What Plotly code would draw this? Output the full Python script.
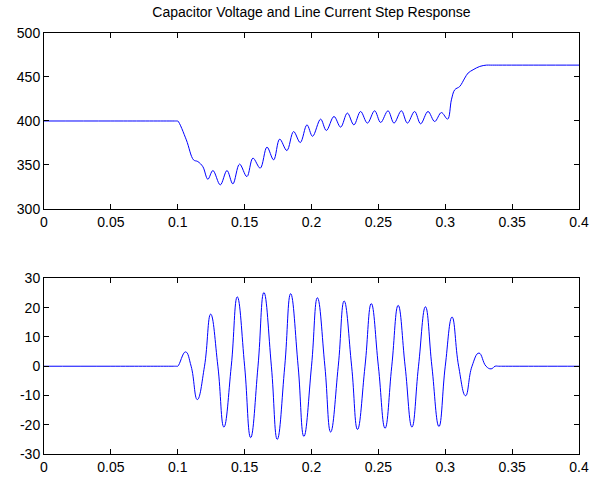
import plotly.graph_objects as go

# Capacitor voltage (top panel), peaks/troughs of the ripple
t_volt = [0, 0.05, 0.095, 0.099, 0.1, 0.1064, 0.1118, 0.115, 0.1188, 0.1225, 0.1263,
          0.1318, 0.1368, 0.1412, 0.1462, 0.1517, 0.1562, 0.1617, 0.1667, 0.1717,
          0.1762, 0.1816, 0.1866, 0.1916, 0.1966, 0.2008, 0.2068, 0.2111, 0.2168,
          0.2218, 0.2268, 0.2317, 0.2367, 0.2418, 0.2472, 0.2517, 0.2572, 0.2617,
          0.2672, 0.2717, 0.2771, 0.2816, 0.2871, 0.2921, 0.2971, 0.3018, 0.3046,
          0.3071, 0.3108, 0.3146, 0.3171, 0.3208, 0.3258, 0.3308, 0.334, 0.34,
          0.37, 0.4]
v_cap = [400, 400, 400, 400, 400, 378.6, 355.8, 353.9, 348, 333.8, 343.7,
         327.4, 343.7, 328.5, 351, 336.8, 357.8, 346.4, 370.3, 355.8,
         379.4, 366.4, 388, 375.5, 395.6, 382.6, 402.1, 389.2, 405.1,
         393, 409, 395.6, 410.8, 397.6, 411.6, 398.3, 411.6, 397.6,
         411.6, 397.6, 410.8, 396.8, 410.8, 399.4, 409.6, 402.1, 424,
         435.5, 439.2, 448.8, 454.5, 458.2, 462, 463.5, 463.5, 463.5,
         463.5, 463.5]

# Line current (bottom panel) - zero crossings and extremes
t_curr = [0, 0.05, 0.095, 0.099, 0.1, 0.1058, 0.11, 0.1146, 0.12, 0.1246, 0.13,
          0.1345, 0.14, 0.1445, 0.15, 0.1545, 0.16, 0.1644, 0.17, 0.1744, 0.18,
          0.1844, 0.19, 0.1943, 0.2, 0.2044, 0.21, 0.2143, 0.22, 0.2244, 0.23,
          0.2344, 0.24, 0.2447, 0.25, 0.255, 0.26, 0.2648, 0.27, 0.2751, 0.28,
          0.2852, 0.29, 0.2953, 0.3, 0.3051, 0.31, 0.3152, 0.32, 0.3252, 0.3305,
          0.3343, 0.3373, 0.34, 0.345, 0.37, 0.4]
i_line = [0, 0, 0, 0, 0, 4.9, 0, -11.4, 0, 17.8, 0,
          -20.8, 0, 23.7, 0, -24.4, 0, 25.2, 0, -25, 0,
          24.8, 0, -24, 0, 23.4, 0, -22.5, 0, 22.3, 0,
          -21.6, 0, 21.4, 0, -21.2, 0, 20.8, 0, -20.8, 0,
          20.3, 0, -20.6, 0, 16.8, 0, -10.1, 0, 4.5, 0,
          -0.9, 0, 0, 0, 0, 0]

x_ticks = [0, 0.05, 0.1, 0.15, 0.2, 0.25, 0.3, 0.35, 0.4]
x_labels = ['0', '0.05', '0.1', '0.15', '0.2', '0.25', '0.3', '0.35', '0.4']
y1_ticks = [300, 350, 400, 450, 500]
y2_ticks = [-30, -20, -10, 0, 10, 20, 30]
y2_labels = ['-30', '-20', '-10', '0', '10', '20', '30']

data = [
    go.Scatter(x=t_volt, y=v_cap, mode='lines',
               line=dict(color='#0000ff', width=1, shape='spline', smoothing=1),
               xaxis='x', yaxis='y', showlegend=False),
    go.Scatter(x=t_curr, y=i_line, mode='lines',
               line=dict(color='#0000ff', width=1, shape='spline', smoothing=1.3),
               xaxis='x2', yaxis='y2', showlegend=False),
]

axis_style = dict(showline=True, linecolor='black', linewidth=1, mirror='allticks',
                  ticks='inside', ticklen=5, tickcolor='black', showgrid=False,
                  zeroline=False, automargin=False, ticklabeloverflow='allow',
                  tickfont=dict(size=14, color='black'))

layout = go.Layout(
    template='none',
    width=597, height=479,
    margin=dict(l=44, r=18, t=33, b=25),
    paper_bgcolor='white', plot_bgcolor='white',
    font=dict(family='Liberation Sans, Arial, sans-serif', size=14, color='black'),
    title=dict(text='Capacitor Voltage and Line Current Step Response',
               x=0.5, xref='paper', y=1 - 12 / 479, yref='container',
               yanchor='middle', automargin=False, font=dict(size=14)),
    xaxis=dict(domain=[0, 1], range=[0, 0.4], anchor='y',
               tickvals=x_ticks, ticktext=x_labels, **axis_style),
    yaxis=dict(domain=[0.582, 1], range=[300, 500], anchor='x',
               tickvals=y1_ticks, **axis_style),
    xaxis2=dict(domain=[0, 1], range=[0, 0.4], anchor='y2',
                tickvals=x_ticks, ticktext=x_labels, **axis_style),
    yaxis2=dict(domain=[0, 0.417], range=[-30, 30], anchor='x2',
                tickvals=y2_ticks, ticktext=y2_labels, **axis_style),
)

fig = go.Figure(data=data, layout=layout)
# drop the default page margin so the 597x479 figure fills the window
fig.write_html('out.html', config={'displayModeBar': False},
               post_script="document.body.style.margin='0';")
